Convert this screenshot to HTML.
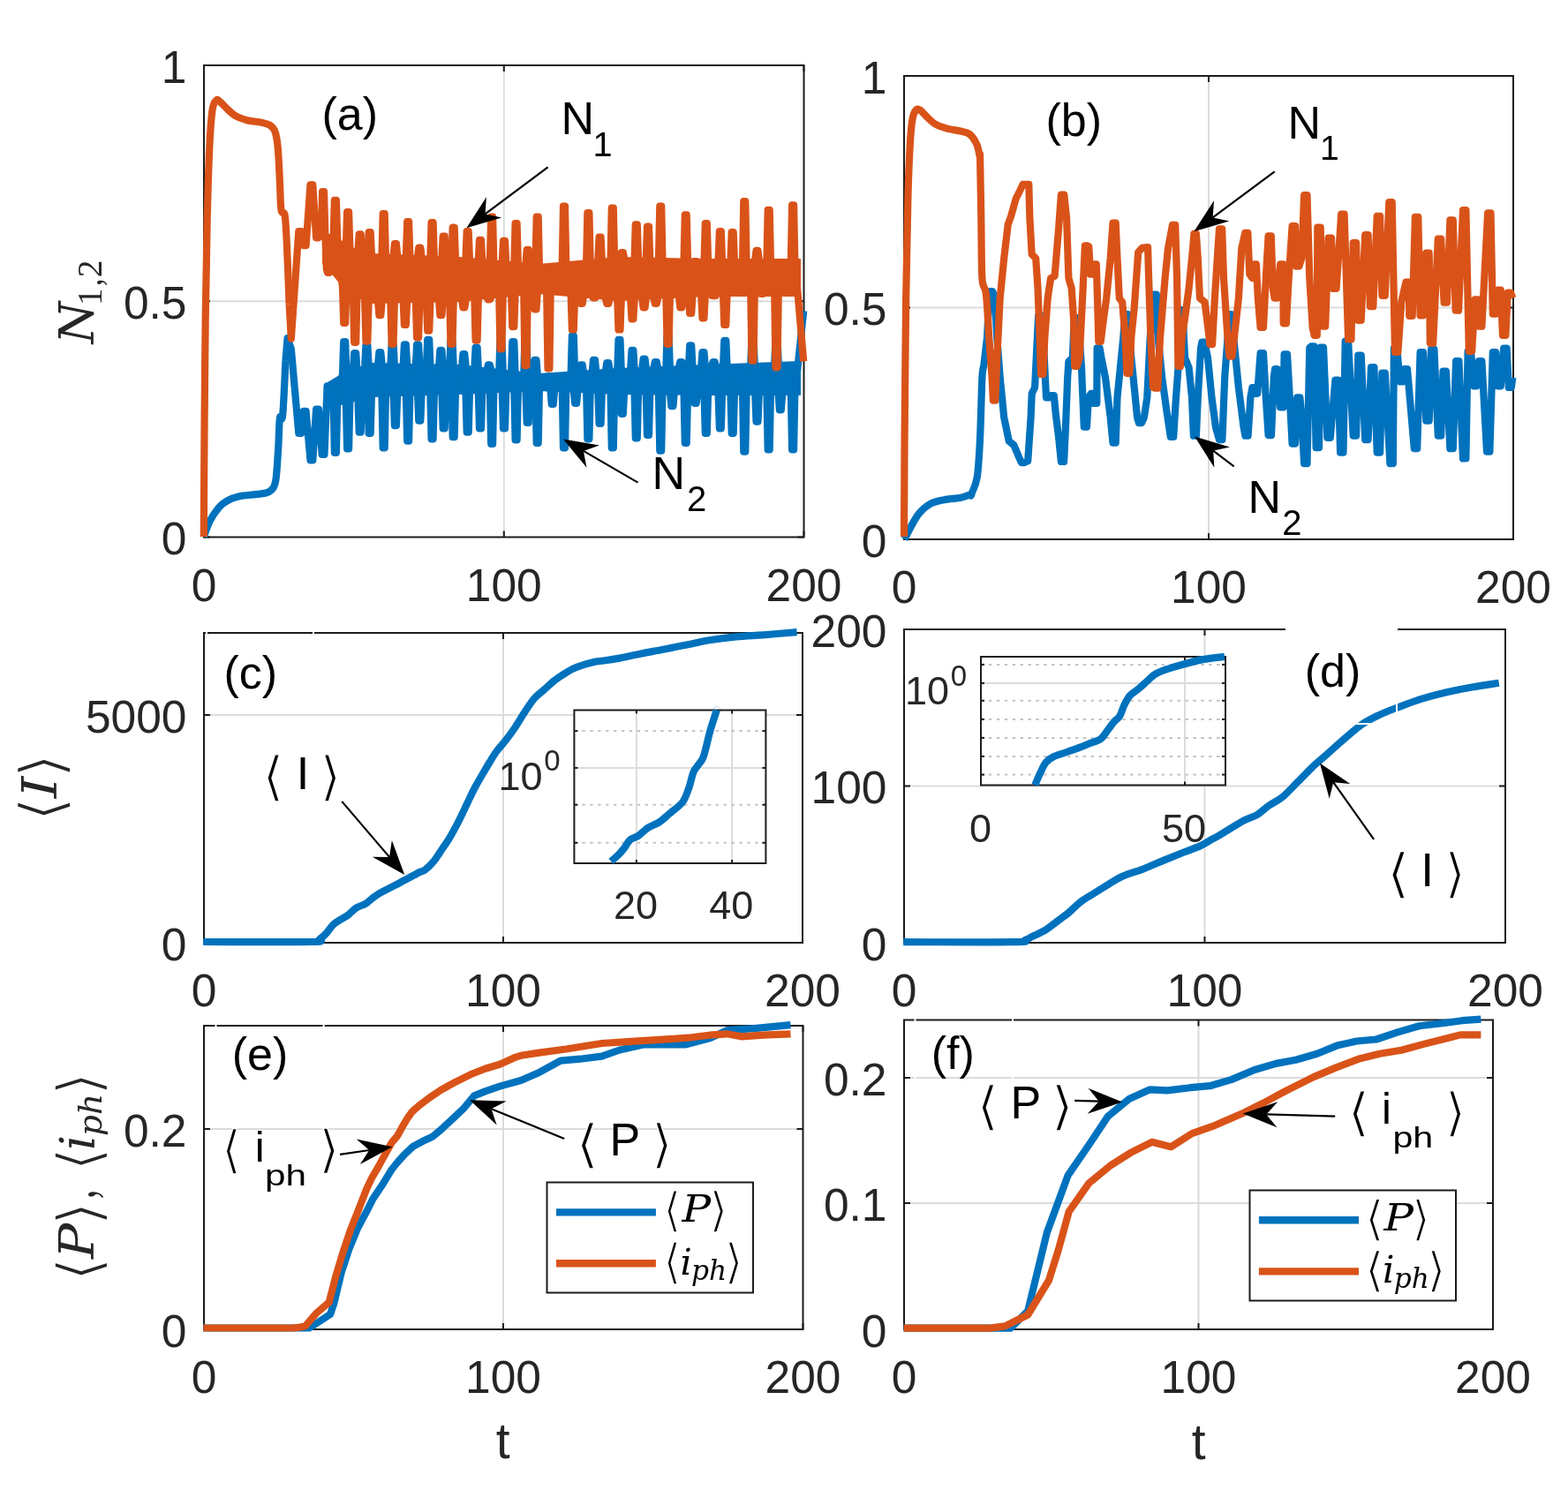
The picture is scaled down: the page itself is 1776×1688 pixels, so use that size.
<!DOCTYPE html>
<html><head><meta charset="utf-8"><title>figure</title>
<style>html,body{margin:0;padding:0;background:#fff;overflow:hidden;width:1776px;height:1688px;}svg{display:block;}</style>
</head><body>
<svg width="1776" height="1688" viewBox="0 0 1776 1688">
<rect width="1776" height="1688" fill="#ffffff"/>
<line x1="570.8" y1="74.0" x2="570.8" y2="608.5" stroke="#dcdcdc" stroke-width="2" />
<line x1="231.0" y1="341.2" x2="910.5" y2="341.2" stroke="#dcdcdc" stroke-width="2" />
<rect x="231.0" y="74.0" width="679.5" height="534.5" fill="none" stroke="#1c1c1c" stroke-width="2"/>
<line x1="231.0" y1="608.5" x2="231.0" y2="601.5" stroke="#1c1c1c" stroke-width="2" />
<line x1="231.0" y1="74.0" x2="231.0" y2="81.0" stroke="#1c1c1c" stroke-width="2" />
<line x1="570.8" y1="608.5" x2="570.8" y2="601.5" stroke="#1c1c1c" stroke-width="2" />
<line x1="570.8" y1="74.0" x2="570.8" y2="81.0" stroke="#1c1c1c" stroke-width="2" />
<line x1="910.5" y1="608.5" x2="910.5" y2="601.5" stroke="#1c1c1c" stroke-width="2" />
<line x1="910.5" y1="74.0" x2="910.5" y2="81.0" stroke="#1c1c1c" stroke-width="2" />
<line x1="231.0" y1="608.5" x2="238.0" y2="608.5" stroke="#1c1c1c" stroke-width="2" />
<line x1="910.5" y1="608.5" x2="903.5" y2="608.5" stroke="#1c1c1c" stroke-width="2" />
<line x1="231.0" y1="341.2" x2="238.0" y2="341.2" stroke="#1c1c1c" stroke-width="2" />
<line x1="910.5" y1="341.2" x2="903.5" y2="341.2" stroke="#1c1c1c" stroke-width="2" />
<line x1="231.0" y1="74.0" x2="238.0" y2="74.0" stroke="#1c1c1c" stroke-width="2" />
<line x1="910.5" y1="74.0" x2="903.5" y2="74.0" stroke="#1c1c1c" stroke-width="2" />
<text x="231.0" y="680.5" font-size="51.5" text-anchor="middle" fill="#262626" font-family="'Liberation Sans', sans-serif" >0</text>
<text x="570.8" y="680.5" font-size="51.5" text-anchor="middle" fill="#262626" font-family="'Liberation Sans', sans-serif" >100</text>
<text x="910.5" y="680.5" font-size="51.5" text-anchor="middle" fill="#262626" font-family="'Liberation Sans', sans-serif" >200</text>
<text x="211.5" y="628.0" font-size="51.5" text-anchor="end" fill="#262626" font-family="'Liberation Sans', sans-serif" >0</text>
<text x="211.5" y="360.7" font-size="51.5" text-anchor="end" fill="#262626" font-family="'Liberation Sans', sans-serif" >0.5</text>
<text x="211.5" y="93.5" font-size="51.5" text-anchor="end" fill="#262626" font-family="'Liberation Sans', sans-serif" >1</text>
<polygon points="368.0,436.0 386.0,425.0 420.0,412.0 520.0,414.0 610.0,424.0 700.0,418.0 800.0,414.0 906.0,410.0 906.0,447.0 800.0,447.0 700.0,446.0 610.0,442.0 520.0,446.0 420.0,449.0 386.0,458.0 368.0,460.0" fill="#0072bd" stroke="#0072bd" stroke-width="2" stroke-linejoin="round"/>
<path d="M230.8,608.0 C232.0,605.0 235.1,595.4 237.9,589.9 C240.7,584.4 244.4,579.1 247.6,575.3 C250.8,571.5 253.5,569.4 257.3,567.3 C261.1,565.1 264.8,563.6 270.2,562.4 C275.6,561.2 284.1,560.8 289.5,560.1 C294.9,559.4 299.1,559.4 302.4,558.2 C305.7,557.0 307.8,555.5 309.5,552.7 C311.2,549.9 311.7,549.2 312.7,541.4 C313.7,533.6 314.6,517.2 315.3,505.9 C316.0,494.6 316.1,479.5 316.9,473.6 C317.7,467.7 319.1,481.2 320.2,470.4 C321.3,459.6 322.9,419.2 323.4,409.0" fill="none" stroke="#0072bd" stroke-width="8.2" stroke-linejoin="round"/>
<polyline points="323.4,409.0 325.6,383.2 329.8,395.0 338.3,490.8 341.1,490.8 343.8,465.9 346.6,465.9 351.5,521.5 354.3,521.5 358.1,463.7 360.9,463.7 364.7,514.9 367.5,514.9 370.6,437.4 373.4,437.4 377.7,458.7 378.9,512.8 380.9,512.8 382.1,458.7 388.0,423.4 389.2,387.0 391.2,387.0 392.4,423.4 391.9,455.8 393.1,508.4 395.1,508.4 396.3,455.8 400.0,418.8 401.2,400.1 403.2,400.1 404.4,418.8 405.5,452.3 406.7,489.7 408.7,489.7 409.9,452.3 413.2,413.8 414.4,391.4 416.4,391.4 417.6,413.8 416.5,449.3 417.7,490.8 419.7,490.8 420.9,449.3 428.2,412.2 429.4,399.0 431.3,399.0 432.6,412.2 432.5,448.6 433.7,507.3 435.7,507.3 436.9,448.6 442.4,412.5 443.6,390.3 445.6,390.3 446.8,412.5 445.7,448.2 446.9,482.1 448.9,482.1 450.1,448.2 456.7,412.8 457.9,390.3 459.8,390.3 461.1,412.8 459.9,447.7 461.2,499.6 463.1,499.6 464.3,447.7 470.9,413.1 472.1,390.3 474.1,390.3 475.3,413.1 473.1,447.3 474.3,476.6 476.3,476.6 477.5,447.3 483.0,413.3 484.2,384.8 486.2,384.8 487.4,413.3 487.4,446.9 488.6,497.4 490.6,497.4 491.8,446.9 497.2,413.6 498.4,396.9 500.4,396.9 501.6,413.6 500.5,446.5 501.7,485.3 503.7,485.3 504.9,446.5 509.3,413.8 510.5,385.9 512.5,385.9 513.7,413.8 511.5,446.2 512.7,495.2 514.7,495.2 515.9,446.2 523.2,414.6 524.4,401.2 526.3,401.2 527.6,414.6 527.5,445.6 528.7,489.7 530.7,489.7 531.9,445.6 537.4,416.2 538.6,393.6 540.6,393.6 541.8,416.2 541.8,444.9 543.0,485.3 545.0,485.3 546.2,444.9 551.7,417.8 552.9,413.3 554.8,413.3 556.1,417.8 554.9,444.3 556.2,502.9 558.1,502.9 559.3,444.3 565.3,419.3 566.5,384.8 568.4,384.8 569.7,419.3 568.8,443.7 570.0,485.3 572.0,485.3 573.2,443.7 579.1,420.8 580.3,387.0 582.3,387.0 583.5,420.8 582.4,443.1 583.6,498.5 585.6,498.5 586.8,443.1 593.3,422.4 594.5,382.6 596.5,382.6 597.7,422.4 595.5,442.5 596.7,478.8 598.7,478.8 599.9,442.5 604.3,423.6 605.5,407.8 607.5,407.8 608.7,423.6 606.5,442.1 607.7,501.8 609.7,501.8 610.9,442.1 620.0,426.5 622.4,426.5 623.6,442.7 624.8,457.9 626.8,457.9 628.0,442.7 633.2,428.6 635.6,428.6 636.8,443.3 638.0,507.3 640.0,507.3 641.2,443.3 646.7,421.4 647.9,380.4 649.8,380.4 651.1,421.4 649.9,443.9 651.2,456.8 653.1,456.8 654.3,443.9 656.5,420.8 657.7,413.3 659.7,413.3 660.9,420.8 664.2,444.5 665.4,497.4 667.4,497.4 668.6,444.5 670.8,419.8 672.0,407.8 674.0,407.8 675.2,419.8 677.4,445.1 678.6,479.9 680.6,479.9 681.8,445.1 686.1,418.8 687.3,411.1 689.3,411.1 690.5,418.8 691.6,445.7 692.8,507.3 694.8,507.3 696.0,445.7 699.3,417.9 700.5,384.8 702.5,384.8 703.7,417.9 702.6,446.0 703.8,468.9 705.8,468.9 707.0,446.0 714.2,417.3 715.5,396.9 717.4,396.9 718.6,417.3 718.6,446.2 719.8,496.3 721.8,496.3 723.0,446.2 727.4,416.8 728.6,406.7 730.6,406.7 731.8,416.8 731.8,446.3 733.0,493.0 735.0,493.0 736.2,446.3 740.6,416.3 741.8,410.0 743.8,410.0 745.0,416.3 746.0,446.5 747.3,510.6 749.2,510.6 750.4,446.5 754.4,415.7 755.6,380.4 757.6,380.4 758.8,415.7 759.2,446.6 760.4,460.1 762.4,460.1 763.6,446.6 769.1,415.1 770.3,410.0 772.3,410.0 773.5,415.1 774.6,446.8 775.8,501.8 777.7,501.8 779.0,446.8 780.0,414.7 781.2,391.4 783.2,391.4 784.4,414.7 785.5,446.9 786.7,456.8 788.7,456.8 789.9,446.9 794.3,414.1 795.5,399.0 797.5,399.0 798.7,414.1 797.6,447.0 798.8,490.8 800.8,490.8 802.0,447.0 806.4,413.7 807.6,410.0 809.6,410.0 810.8,413.7 813.6,447.0 814.9,485.3 816.8,485.3 818.0,447.0 819.1,413.2 820.3,385.9 822.3,385.9 823.5,413.2 827.5,447.0 828.7,490.8 830.7,490.8 831.9,447.0 834.8,440.7 837.6,440.7 841.1,447.0 842.3,511.7 844.3,511.7 845.5,447.0 850.3,412.0 851.5,382.6 853.5,382.6 854.7,412.0 855.3,447.0 856.5,477.7 858.5,477.7 859.7,447.0 861.6,419.9 864.4,419.9 868.5,447.0 869.7,509.5 871.7,509.5 872.9,447.0 877.3,411.0 878.5,382.6 880.5,382.6 881.7,411.0 881.7,447.0 882.9,464.5 884.8,464.5 886.1,447.0 891.2,425.4 894.0,425.4 895.9,447.0 897.1,509.5 899.1,509.5 900.3,447.0 910.2,352.3" fill="none" stroke="#0072bd" stroke-width="8.2" stroke-linejoin="round" stroke-linecap="butt" />
<polygon points="366.0,264.0 380.0,268.0 395.0,280.0 420.0,288.0 520.0,292.0 610.0,300.0 700.0,292.0 800.0,294.0 906.0,294.0 906.0,335.0 800.0,335.0 700.0,340.0 610.0,332.0 520.0,341.0 420.0,343.0 395.0,332.0 380.0,314.0 366.0,298.0" fill="#d95319" stroke="#d95319" stroke-width="2" stroke-linejoin="round"/>
<path d="M230.8,608.0 C230.9,588.3 231.2,531.0 231.5,489.8 C231.8,448.6 232.2,401.0 232.7,360.6 C233.2,320.2 233.9,279.9 234.7,247.6 C235.5,215.3 236.3,187.3 237.3,166.9 C238.3,146.5 239.2,133.8 240.5,124.9 C241.8,116.0 243.6,115.2 245.0,113.6 C246.4,112.0 247.1,113.6 249.2,115.2 C251.2,116.8 254.4,120.6 257.3,123.3 C260.2,126.0 263.1,129.2 266.9,131.3 C270.6,133.5 274.9,134.9 279.8,136.2 C284.7,137.4 291.7,137.9 296.0,138.8 C300.3,139.7 303.0,140.0 305.6,141.7 C308.2,143.4 310.0,144.9 311.5,149.1 C313.0,153.3 313.8,157.5 314.7,166.9 C315.6,176.3 316.3,193.8 316.9,205.6 C317.5,217.4 317.5,231.4 318.5,237.9 C319.5,244.4 321.6,237.4 322.7,244.4 C323.8,251.4 324.2,263.2 325.0,279.9 C325.8,296.6 327.2,333.7 327.6,344.5" fill="none" stroke="#d95319" stroke-width="8.2" stroke-linejoin="round"/>
<polyline points="327.6,344.5 329.8,383.6 338.3,262.0 341.1,262.0 343.8,278.1 346.6,278.1 351.5,209.4 354.3,209.4 358.1,269.3 360.9,269.3 363.9,264.0 365.1,217.0 367.0,217.0 368.3,264.0 369.8,304.8 371.0,308.8 373.0,308.8 374.2,304.8 377.7,268.0 378.9,226.9 380.9,226.9 382.1,268.0 388.0,326.2 389.2,365.8 391.2,365.8 392.4,326.2 391.9,279.3 393.1,240.1 395.1,240.1 396.3,279.3 400.0,335.2 401.2,387.8 403.2,387.8 404.4,335.2 405.5,284.1 406.7,265.3 408.7,265.3 409.9,284.1 413.2,341.0 414.4,386.7 416.4,386.7 417.6,341.0 416.5,287.6 417.7,263.1 419.7,263.1 420.9,287.6 428.2,342.8 429.4,357.1 431.3,357.1 432.6,342.8 432.5,288.6 433.7,242.2 435.7,242.2 436.9,288.6 442.4,342.5 443.6,389.9 445.6,389.9 446.8,342.5 445.7,289.1 446.9,276.2 448.9,276.2 450.1,289.1 456.7,342.2 457.9,368.0 459.8,368.0 461.1,342.2 459.9,289.7 461.2,251.0 463.1,251.0 464.3,289.7 470.9,341.9 472.1,382.3 474.1,382.3 475.3,341.9 473.1,290.2 474.3,280.6 476.3,280.6 477.5,290.2 483.0,341.7 484.2,374.6 486.2,374.6 487.4,341.7 487.4,290.8 488.6,252.1 490.6,252.1 491.8,290.8 497.2,341.4 498.4,357.1 500.4,357.1 501.6,341.4 500.5,291.3 501.7,267.5 503.7,267.5 504.9,291.3 509.3,341.2 510.5,389.9 512.5,389.9 513.7,341.2 511.5,291.7 512.7,257.6 514.7,257.6 515.9,291.7 523.2,340.5 524.4,348.3 526.3,348.3 527.6,340.5 527.5,292.9 528.7,262.0 530.7,262.0 531.9,292.9 537.4,339.0 538.6,385.6 540.6,385.6 541.8,339.0 541.8,294.1 543.0,271.9 545.0,271.9 546.2,294.1 551.7,337.6 552.9,339.5 554.8,339.5 556.1,337.6 554.9,295.3 556.2,245.5 558.1,245.5 559.3,295.3 565.3,336.3 566.5,395.4 568.4,395.4 569.7,336.3 568.8,296.5 570.0,272.9 572.0,272.9 573.2,296.5 579.1,334.9 580.3,370.2 582.3,370.2 583.5,334.9 582.4,297.7 583.6,253.2 585.6,253.2 586.8,297.7 593.3,333.4 594.5,414.1 596.5,414.1 597.7,333.4 595.5,298.9 596.7,282.8 598.7,282.8 599.9,298.9 604.3,332.4 605.5,350.5 607.5,350.5 608.7,332.4 606.5,299.9 607.7,245.5 609.7,245.5 610.9,299.9 619.2,333.0 620.5,417.4 622.4,417.4 623.6,333.0 624.8,306.9 627.2,306.9 633.2,324.2 635.6,324.2 636.8,297.4 638.0,233.5 640.0,233.5 641.2,297.4 646.7,335.5 647.9,373.5 649.8,373.5 651.1,335.5 651.7,301.5 653.5,301.5 656.5,336.3 657.7,343.9 659.7,343.9 660.9,336.3 664.2,295.0 665.4,241.1 667.4,241.1 668.6,295.0 671.6,337.3 674.4,337.3 677.4,293.8 678.6,268.6 680.6,268.6 681.8,293.8 686.1,339.0 687.3,343.9 689.3,343.9 690.5,339.0 691.6,292.5 692.8,235.7 694.8,235.7 696.0,292.5 699.3,339.9 700.5,373.5 702.5,373.5 703.7,339.9 702.6,292.1 703.8,286.1 705.8,286.1 707.0,292.1 714.2,339.2 715.5,361.4 717.4,361.4 718.6,339.2 718.6,292.4 719.8,254.3 721.8,254.3 723.0,292.4 727.4,338.5 728.6,348.3 730.6,348.3 731.8,338.5 731.8,292.7 733.0,256.5 735.0,256.5 736.2,292.7 740.6,337.9 741.8,343.9 743.8,343.9 745.0,337.9 746.0,293.0 747.3,233.5 749.2,233.5 750.4,293.0 754.4,337.2 755.6,389.9 757.6,389.9 758.8,337.2 760.2,301.5 762.8,301.5 769.1,336.4 770.3,348.3 772.3,348.3 773.5,336.4 774.6,293.5 775.8,243.3 777.7,243.3 779.0,293.5 780.0,335.9 781.2,354.9 783.2,354.9 784.4,335.9 786.3,296.0 789.1,296.0 794.3,335.2 795.5,360.3 797.5,360.3 798.7,335.2 797.6,294.0 798.8,253.2 800.8,253.2 802.0,294.0 806.4,335.0 807.6,335.1 809.6,335.1 810.8,335.0 813.6,294.0 814.9,262.0 816.8,262.0 818.0,294.0 819.1,335.0 820.3,368.0 822.3,368.0 823.5,335.0 827.5,294.0 828.7,263.1 830.7,263.1 831.9,294.0 834.8,304.4 837.6,304.4 841.1,294.0 842.3,228.0 844.3,228.0 845.5,294.0 850.3,335.0 851.5,408.6 853.5,408.6 854.7,335.0 855.3,294.0 856.5,283.9 858.5,283.9 859.7,294.0 861.6,332.9 864.4,332.9 868.5,294.0 869.7,237.9 871.7,237.9 872.9,294.0 877.3,335.0 878.5,416.3 880.5,416.3 881.7,335.0 882.9,300.4 885.3,300.4 891.2,328.5 894.0,328.5 895.9,294.0 897.1,232.4 899.1,232.4 900.3,294.0 910.2,409.3" fill="none" stroke="#d95319" stroke-width="8.2" stroke-linejoin="round" stroke-linecap="butt" />
<line x1="1369.0" y1="86.0" x2="1369.0" y2="611.0" stroke="#dcdcdc" stroke-width="2" />
<line x1="1024.0" y1="348.5" x2="1714.0" y2="348.5" stroke="#dcdcdc" stroke-width="2" />
<rect x="1024.0" y="86.0" width="690.0" height="525.0" fill="none" stroke="#1c1c1c" stroke-width="2"/>
<line x1="1024.0" y1="611.0" x2="1024.0" y2="604.0" stroke="#1c1c1c" stroke-width="2" />
<line x1="1024.0" y1="86.0" x2="1024.0" y2="93.0" stroke="#1c1c1c" stroke-width="2" />
<line x1="1369.0" y1="611.0" x2="1369.0" y2="604.0" stroke="#1c1c1c" stroke-width="2" />
<line x1="1369.0" y1="86.0" x2="1369.0" y2="93.0" stroke="#1c1c1c" stroke-width="2" />
<line x1="1714.0" y1="611.0" x2="1714.0" y2="604.0" stroke="#1c1c1c" stroke-width="2" />
<line x1="1714.0" y1="86.0" x2="1714.0" y2="93.0" stroke="#1c1c1c" stroke-width="2" />
<line x1="1024.0" y1="611.0" x2="1031.0" y2="611.0" stroke="#1c1c1c" stroke-width="2" />
<line x1="1714.0" y1="611.0" x2="1707.0" y2="611.0" stroke="#1c1c1c" stroke-width="2" />
<line x1="1024.0" y1="348.5" x2="1031.0" y2="348.5" stroke="#1c1c1c" stroke-width="2" />
<line x1="1714.0" y1="348.5" x2="1707.0" y2="348.5" stroke="#1c1c1c" stroke-width="2" />
<line x1="1024.0" y1="86.0" x2="1031.0" y2="86.0" stroke="#1c1c1c" stroke-width="2" />
<line x1="1714.0" y1="86.0" x2="1707.0" y2="86.0" stroke="#1c1c1c" stroke-width="2" />
<text x="1024.0" y="683.0" font-size="51.5" text-anchor="middle" fill="#262626" font-family="'Liberation Sans', sans-serif" >0</text>
<text x="1369.0" y="683.0" font-size="51.5" text-anchor="middle" fill="#262626" font-family="'Liberation Sans', sans-serif" >100</text>
<text x="1714.0" y="683.0" font-size="51.5" text-anchor="middle" fill="#262626" font-family="'Liberation Sans', sans-serif" >200</text>
<text x="1004.5" y="630.5" font-size="51.5" text-anchor="end" fill="#262626" font-family="'Liberation Sans', sans-serif" >0</text>
<text x="1004.5" y="368.0" font-size="51.5" text-anchor="end" fill="#262626" font-family="'Liberation Sans', sans-serif" >0.5</text>
<text x="1004.5" y="105.5" font-size="51.5" text-anchor="end" fill="#262626" font-family="'Liberation Sans', sans-serif" >1</text>
<path d="M1024.6,611.0 C1025.7,608.9 1028.3,603.0 1031.0,598.2 C1033.7,593.4 1036.9,586.7 1040.6,582.2 C1044.3,577.7 1048.6,573.7 1053.4,571.0 C1058.2,568.3 1063.5,567.4 1069.4,566.2 C1075.3,565.0 1083.5,564.8 1088.6,563.7 C1093.7,562.6 1097.9,560.4 1099.8,559.8 C1101.7,559.2 1098.8,563.4 1100.0,560.2 C1101.2,557.0 1105.1,551.2 1106.8,540.4 C1108.5,529.6 1109.2,514.1 1110.1,495.3 C1111.0,476.5 1111.7,441.6 1112.4,427.7 C1113.2,413.8 1113.7,419.5 1114.6,412.0 C1115.5,404.5 1117.4,387.6 1118.0,382.7" fill="none" stroke="#0072bd" stroke-width="8.2" stroke-linejoin="round"/>
<polyline points="1118.0,382.7 1120.8,330.2 1124.2,330.2 1127.0,337.7 1129.3,382.7 1132.7,427.7 1137.2,472.8 1142.8,499.8 1148.4,504.3 1154.1,517.8 1156.9,524.1 1160.3,524.1 1164.2,522.3 1167.6,472.8 1168.7,445.8 1172.1,439.0 1174.3,394.0 1176.2,357.3 1179.4,357.3 1182.2,394.0 1185.0,450.3 1188.4,450.3 1190.6,448.0 1193.8,448.0 1195.7,468.3 1199.1,495.3 1201.9,523.0 1205.1,523.0 1207.0,484.1 1209.2,427.7 1210.4,409.7 1214.9,405.2 1216.7,360.2 1219.9,360.2 1222.7,382.7 1225.0,416.5 1227.8,483.6 1231.0,483.6 1232.9,450.3 1235.7,445.8 1238.9,445.8 1239.3,457.0 1242.3,457.0 1242.6,394.4 1245.6,394.4 1247.5,405.2 1252.0,427.7 1257.7,472.8 1260.5,501.6 1263.7,501.6 1265.5,450.3 1268.9,416.5 1272.3,382.7 1274.2,356.1 1277.4,356.1 1280.2,394.0 1283.6,427.7 1288.1,472.8 1289.9,479.1 1293.1,479.1 1295.9,472.8 1299.3,450.3 1302.7,382.7 1306.6,333.6 1309.8,333.6 1311.7,382.7 1316.2,427.7 1321.8,468.3 1325.8,494.9 1329.2,494.9 1332.0,450.3 1335.4,405.2 1336.6,351.2 1339.3,351.2 1342.1,405.2 1346.6,416.5 1350.0,450.3 1351.9,493.7 1354.9,493.7 1356.8,450.3 1360.1,394.0 1361.4,387.7 1364.1,387.7 1368.0,405.2 1372.5,450.3 1377.0,484.1 1381.0,498.2 1384.4,498.2 1387.2,427.7 1390.5,382.7 1391.8,356.1 1394.5,356.1 1397.3,382.7 1402.9,439.0 1408.6,484.1 1410.4,493.7 1413.6,493.7 1416.4,450.3 1418.4,439.0 1421.1,439.0 1421.4,445.8 1424.2,445.8 1427.6,400.2 1431.0,400.2 1433.8,450.3 1436.6,493.1 1440.0,493.1 1442.8,427.7 1444.0,418.2 1446.7,418.2 1450.1,461.5 1453.5,461.5 1454.6,401.3 1458.0,401.3 1460.8,450.3 1463.6,502.6 1467.0,502.6 1469.2,450.3 1472.4,450.3 1474.3,472.8 1477.1,525.1 1480.5,525.1 1483.3,394.0 1485.2,392.3 1488.4,392.3 1490.6,507.1 1494.0,507.1 1495.6,393.5 1499.0,393.5 1503.4,495.8 1506.8,495.8 1512.4,430.6 1515.8,430.6 1518.1,512.7 1521.5,512.7 1523.7,386.7 1527.1,386.7 1532.7,493.6 1536.1,493.6 1538.3,402.5 1541.7,402.5 1546.2,498.1 1549.6,498.1 1553.0,416.0 1556.4,416.0 1559.7,512.7 1563.1,512.7 1565.4,422.7 1568.8,422.7 1574.4,525.1 1577.8,525.1 1578.9,394.6 1582.3,394.6 1585.6,432.3 1589.0,432.3 1590.6,418.2 1594.0,418.2 1601.8,508.2 1605.2,508.2 1608.6,399.1 1612.0,399.1 1615.3,476.7 1618.7,476.7 1621.0,395.7 1624.4,395.7 1628.8,493.6 1632.2,493.6 1634.5,420.5 1637.9,420.5 1642.4,508.2 1645.8,508.2 1649.1,409.2 1652.5,409.2 1657.0,519.5 1660.4,519.5 1662.6,398.0 1666.0,398.0 1669.4,437.3 1672.8,437.3 1675.0,409.2 1678.4,409.2 1684.0,511.6 1687.4,511.6 1690.8,399.1 1694.2,399.1 1696.4,437.3 1699.8,437.3 1703.2,394.6 1706.6,394.6 1708.8,439.0 1711.8,439.0 1713.4,427.7" fill="none" stroke="#0072bd" stroke-width="8.2" stroke-linejoin="round" stroke-linecap="butt" />
<path d="M1024.0,608.0 C1024.1,589.3 1024.2,541.2 1024.6,495.9 C1025.0,450.5 1025.6,381.2 1026.2,335.9 C1026.8,290.6 1027.6,253.3 1028.4,224.0 C1029.2,194.7 1030.1,174.9 1031.0,160.0 C1031.9,145.1 1032.5,140.3 1033.6,134.4 C1034.7,128.5 1036.0,126.4 1037.4,124.8 C1038.8,123.2 1040.1,123.5 1042.2,124.8 C1044.3,126.1 1047.3,130.1 1050.2,132.8 C1053.1,135.5 1056.1,138.7 1059.8,140.8 C1063.5,142.9 1067.8,144.3 1072.6,145.6 C1077.4,146.9 1084.3,147.7 1088.6,148.8 C1092.9,149.9 1095.3,149.6 1098.2,152.0 C1101.1,154.4 1104.3,159.2 1106.2,163.2 C1108.1,167.2 1108.8,173.2 1109.4,176.0 C1110.1,178.8 1109.8,168.1 1110.1,180.0 C1110.4,191.9 1110.9,225.1 1111.3,247.6 C1111.7,270.1 1111.5,300.8 1112.4,315.1 C1113.3,329.4 1115.6,321.9 1116.9,333.2 C1118.2,344.5 1119.7,374.4 1120.3,382.7" fill="none" stroke="#d95319" stroke-width="8.2" stroke-linejoin="round"/>
<polyline points="1120.3,382.7 1123.6,427.7 1124.9,453.6 1127.4,453.6 1129.3,405.2 1132.7,337.7 1137.2,292.6 1141.7,254.3 1145.0,245.3 1150.7,225.0 1155.2,216.0 1158.6,208.8 1165.3,208.8 1166.4,247.6 1168.7,288.1 1173.2,292.6 1175.5,326.4 1177.7,382.7 1179.0,423.9 1181.5,423.9 1183.3,382.7 1186.7,337.7 1190.1,315.1 1194.6,312.9 1199.1,258.8 1201.9,220.5 1205.3,220.5 1208.1,247.6 1210.4,315.1 1213.7,326.4 1216.0,360.2 1217.2,414.9 1219.9,414.9 1222.7,405.2 1226.1,337.7 1228.9,278.4 1231.8,278.4 1233.3,279.1 1235.0,310.6 1238.0,310.6 1239.1,299.4 1241.8,299.4 1243.0,337.7 1244.3,386.8 1246.8,386.8 1248.6,371.4 1253.2,337.7 1257.7,292.6 1260.5,252.5 1263.7,252.5 1265.5,292.6 1267.8,337.7 1271.2,342.2 1274.5,382.7 1276.4,422.8 1279.4,422.8 1281.3,382.7 1284.7,348.9 1289.2,285.9 1293.7,280.7 1297.6,280.2 1300.1,280.2 1301.1,315.1 1303.4,382.7 1306.1,439.0 1308.0,439.7 1311.2,439.7 1314.0,382.7 1319.6,315.1 1323.0,281.4 1328.0,254.8 1331.2,254.8 1333.1,315.1 1334.4,414.9 1336.9,414.9 1338.7,382.7 1342.1,360.2 1346.6,326.4 1351.1,281.4 1352.4,264.9 1354.9,264.9 1356.8,292.6 1359.0,337.7 1364.6,342.2 1369.1,378.2 1370.4,390.1 1373.1,390.1 1375.9,337.7 1381.0,259.3 1384.2,259.3 1386.0,315.1 1390.5,382.7 1392.4,403.6 1395.6,403.6 1398.4,378.2 1402.9,337.7 1406.3,281.4 1410.2,263.8 1413.4,263.8 1415.3,310.6 1418.3,315.1 1420.6,315.1 1420.8,299.4 1422.9,299.4 1424.8,337.7 1427.6,370.8 1431.0,370.8 1433.8,315.1 1436.6,267.3 1439.8,267.3 1441.7,326.4 1443.5,337.7 1446.7,337.7 1450.1,299.4 1453.3,299.4 1453.7,366.3 1456.9,366.3 1459.7,315.1 1463.6,256.1 1467.0,256.1 1468.1,301.6 1471.5,301.6 1474.3,292.6 1477.1,221.2 1480.5,221.2 1483.3,315.1 1486.7,371.4 1488.6,379.8 1491.8,379.8 1492.3,257.5 1495.7,257.5 1497.8,369.7 1501.2,369.7 1504.6,269.6 1508.0,269.6 1510.2,327.0 1513.6,327.0 1519.2,242.6 1522.6,242.6 1527.1,384.3 1530.5,384.3 1532.7,275.2 1536.1,275.2 1538.3,362.9 1541.7,362.9 1546.2,266.2 1549.6,266.2 1551.9,347.2 1555.3,347.2 1559.7,244.8 1563.1,244.8 1565.4,334.8 1568.8,334.8 1573.3,229.0 1576.7,229.0 1580.0,399.0 1583.4,399.0 1587.3,342.2 1592.4,319.6 1595.8,319.6 1596.3,358.0 1599.7,358.0 1602.9,245.9 1606.3,245.9 1608.6,357.3 1612.0,357.3 1615.3,286.5 1618.7,286.5 1619.8,388.8 1623.2,388.8 1628.8,270.7 1632.2,270.7 1635.6,342.7 1639.0,342.7 1642.4,249.3 1645.8,249.3 1648.7,351.7 1652.1,351.7 1657.0,238.1 1660.4,238.1 1663.8,397.8 1667.2,397.8 1670.5,339.4 1673.9,339.4 1675.0,369.7 1678.4,369.7 1685.1,241.4 1688.5,241.4 1690.8,355.7 1694.2,355.7 1696.4,328.6 1699.8,328.6 1702.0,379.8 1705.4,379.8 1707.7,331.5 1711.1,331.5 1713.4,337.7" fill="none" stroke="#d95319" stroke-width="8.2" stroke-linejoin="round" stroke-linecap="butt" />
<line x1="570.0" y1="717.0" x2="570.0" y2="1068.0" stroke="#dcdcdc" stroke-width="2" />
<line x1="231.0" y1="810.0" x2="909.0" y2="810.0" stroke="#dcdcdc" stroke-width="2" />
<rect x="231.0" y="717.0" width="678.0" height="351.0" fill="none" stroke="#1c1c1c" stroke-width="2"/>
<line x1="231.0" y1="1068.0" x2="231.0" y2="1061.0" stroke="#1c1c1c" stroke-width="2" />
<line x1="231.0" y1="717.0" x2="231.0" y2="724.0" stroke="#1c1c1c" stroke-width="2" />
<line x1="570.0" y1="1068.0" x2="570.0" y2="1061.0" stroke="#1c1c1c" stroke-width="2" />
<line x1="570.0" y1="717.0" x2="570.0" y2="724.0" stroke="#1c1c1c" stroke-width="2" />
<line x1="909.0" y1="1068.0" x2="909.0" y2="1061.0" stroke="#1c1c1c" stroke-width="2" />
<line x1="909.0" y1="717.0" x2="909.0" y2="724.0" stroke="#1c1c1c" stroke-width="2" />
<line x1="231.0" y1="1068.0" x2="238.0" y2="1068.0" stroke="#1c1c1c" stroke-width="2" />
<line x1="909.0" y1="1068.0" x2="902.0" y2="1068.0" stroke="#1c1c1c" stroke-width="2" />
<line x1="231.0" y1="810.0" x2="238.0" y2="810.0" stroke="#1c1c1c" stroke-width="2" />
<line x1="909.0" y1="810.0" x2="902.0" y2="810.0" stroke="#1c1c1c" stroke-width="2" />
<text x="231.0" y="1140.0" font-size="51.5" text-anchor="middle" fill="#262626" font-family="'Liberation Sans', sans-serif" >0</text>
<text x="570.0" y="1140.0" font-size="51.5" text-anchor="middle" fill="#262626" font-family="'Liberation Sans', sans-serif" >100</text>
<text x="909.0" y="1140.0" font-size="51.5" text-anchor="middle" fill="#262626" font-family="'Liberation Sans', sans-serif" >200</text>
<text x="211.5" y="1087.5" font-size="51.5" text-anchor="end" fill="#262626" font-family="'Liberation Sans', sans-serif" >0</text>
<text x="211.5" y="829.5" font-size="51.5" text-anchor="end" fill="#262626" font-family="'Liberation Sans', sans-serif" >5000</text>
<path d="M230.1,1067.0 C250.4,1067.0 329.8,1067.5 351.8,1067.0 C373.8,1066.5 358.9,1065.7 361.9,1064.0 C364.9,1062.3 367.5,1059.6 370.0,1056.9 C372.5,1054.2 374.7,1050.2 377.1,1047.8 C379.5,1045.4 381.3,1044.6 384.2,1042.7 C387.1,1040.8 391.1,1039.0 394.3,1036.6 C397.5,1034.2 400.1,1030.7 403.5,1028.5 C406.9,1026.3 411.1,1025.7 414.6,1023.5 C418.1,1021.3 421.3,1017.7 424.7,1015.3 C428.1,1012.9 431.2,1011.3 434.9,1009.3 C438.6,1007.3 443.1,1005.2 447.0,1003.2 C450.9,1001.2 453.5,999.6 458.2,997.1 C462.9,994.6 471.5,990.0 475.4,988.0 C479.3,986.0 479.0,987.3 481.7,985.2 C484.4,983.1 488.4,979.2 491.6,975.3 C494.8,971.4 497.8,966.3 500.7,962.0 C503.6,957.7 506.2,954.2 509.0,949.6 C511.8,945.0 514.8,939.3 517.3,934.6 C519.8,929.9 521.8,925.7 523.9,921.4 C526.0,917.1 527.4,913.8 529.8,908.9 C532.1,904.0 535.2,897.2 538.0,892.0 C540.8,886.8 543.5,882.2 546.3,877.5 C549.1,872.8 551.9,867.9 554.6,863.5 C557.3,859.1 559.6,855.1 562.7,850.9 C565.8,846.7 569.8,842.7 573.3,838.1 C576.8,833.5 580.4,828.5 584.0,823.2 C587.6,817.9 591.2,811.4 594.7,806.1 C598.2,800.8 601.8,795.3 605.3,791.2 C608.8,787.1 612.4,784.8 616.0,781.6 C619.6,778.4 623.2,774.9 626.7,772.0 C630.2,769.1 633.8,766.8 637.3,764.5 C640.8,762.2 644.4,759.9 648.0,758.1 C651.6,756.3 654.2,755.3 658.7,753.9 C663.2,752.5 670.9,750.5 674.7,749.6 C678.5,748.7 677.1,749.4 681.6,748.7 C686.1,748.0 694.5,747.0 701.9,745.6 C709.3,744.2 717.8,742.2 726.2,740.5 C734.7,738.8 743.1,737.4 752.6,735.5 C762.1,733.6 774.5,731.1 783.0,729.4 C791.5,727.7 794.8,726.6 803.3,725.3 C811.8,723.9 823.6,722.3 833.7,721.3 C843.8,720.3 852.6,720.1 864.1,719.3 C875.6,718.4 896.2,716.7 902.6,716.2" fill="none" stroke="#0072bd" stroke-width="8.2" stroke-linejoin="round"/>
<rect x="650.4" y="804.5" width="217.0" height="173.5" fill="#ffffff" stroke="none"/>
<line x1="720.9" y1="804.5" x2="720.9" y2="978.0" stroke="#dcdcdc" stroke-width="2" />
<line x1="829.1" y1="804.5" x2="829.1" y2="978.0" stroke="#dcdcdc" stroke-width="2" />
<line x1="650.4" y1="828.1" x2="867.4" y2="828.1" stroke="#c4c4c4" stroke-width="2" stroke-dasharray="3.5 5.4"/>
<line x1="650.4" y1="911.7" x2="867.4" y2="911.7" stroke="#c4c4c4" stroke-width="2" stroke-dasharray="3.5 5.4"/>
<line x1="650.4" y1="954.8" x2="867.4" y2="954.8" stroke="#c4c4c4" stroke-width="2" stroke-dasharray="3.5 5.4"/>
<line x1="650.4" y1="869.9" x2="867.4" y2="869.9" stroke="#dcdcdc" stroke-width="2" />
<rect x="650.4" y="804.5" width="217.0" height="173.5" fill="none" stroke="#1c1c1c" stroke-width="2"/>
<line x1="720.9" y1="978.0" x2="720.9" y2="974.0" stroke="#1c1c1c" stroke-width="2" />
<line x1="720.9" y1="804.5" x2="720.9" y2="808.5" stroke="#1c1c1c" stroke-width="2" />
<line x1="829.1" y1="978.0" x2="829.1" y2="974.0" stroke="#1c1c1c" stroke-width="2" />
<line x1="829.1" y1="804.5" x2="829.1" y2="808.5" stroke="#1c1c1c" stroke-width="2" />
<line x1="650.4" y1="869.9" x2="654.4" y2="869.9" stroke="#1c1c1c" stroke-width="2" />
<line x1="867.4" y1="869.9" x2="863.4" y2="869.9" stroke="#1c1c1c" stroke-width="2" />
<line x1="650.4" y1="828.1" x2="654.4" y2="828.1" stroke="#1c1c1c" stroke-width="2" />
<line x1="867.4" y1="828.1" x2="863.4" y2="828.1" stroke="#1c1c1c" stroke-width="2" />
<line x1="650.4" y1="911.7" x2="654.4" y2="911.7" stroke="#1c1c1c" stroke-width="2" />
<line x1="867.4" y1="911.7" x2="863.4" y2="911.7" stroke="#1c1c1c" stroke-width="2" />
<line x1="650.4" y1="954.8" x2="654.4" y2="954.8" stroke="#1c1c1c" stroke-width="2" />
<line x1="867.4" y1="954.8" x2="863.4" y2="954.8" stroke="#1c1c1c" stroke-width="2" />
<path d="M692.1,975.8 C693.5,974.6 698.0,970.9 700.5,968.4 C703.0,965.9 704.8,963.7 707.0,960.9 C709.2,958.1 710.9,953.9 713.5,951.6 C716.1,949.3 719.4,949.3 722.8,947.0 C726.2,944.7 730.0,940.3 734.0,937.7 C738.0,935.1 743.0,933.8 747.0,931.2 C751.0,928.6 753.8,925.6 758.1,921.9 C762.4,918.2 769.3,913.8 773.0,908.9 C776.7,904.0 778.2,898.1 780.4,892.2 C782.6,886.3 783.5,878.9 786.0,873.6 C788.5,868.3 793.1,864.6 795.3,860.6 C797.5,856.6 797.5,855.1 799.0,849.5 C800.5,843.9 802.6,834.3 804.6,827.2 C806.6,820.1 809.9,810.5 811.1,806.7 C812.3,802.9 811.9,804.9 812.0,804.5" fill="none" stroke="#0072bd" stroke-width="8.2" stroke-linejoin="round"/>
<line x1="1364.5" y1="713.0" x2="1364.5" y2="1068.0" stroke="#dcdcdc" stroke-width="2" />
<line x1="1024.0" y1="890.5" x2="1705.0" y2="890.5" stroke="#dcdcdc" stroke-width="2" />
<rect x="1024.0" y="713.0" width="681.0" height="355.0" fill="none" stroke="#1c1c1c" stroke-width="2"/>
<line x1="1024.0" y1="1068.0" x2="1024.0" y2="1061.0" stroke="#1c1c1c" stroke-width="2" />
<line x1="1024.0" y1="713.0" x2="1024.0" y2="720.0" stroke="#1c1c1c" stroke-width="2" />
<line x1="1364.5" y1="1068.0" x2="1364.5" y2="1061.0" stroke="#1c1c1c" stroke-width="2" />
<line x1="1364.5" y1="713.0" x2="1364.5" y2="720.0" stroke="#1c1c1c" stroke-width="2" />
<line x1="1705.0" y1="1068.0" x2="1705.0" y2="1061.0" stroke="#1c1c1c" stroke-width="2" />
<line x1="1705.0" y1="713.0" x2="1705.0" y2="720.0" stroke="#1c1c1c" stroke-width="2" />
<line x1="1024.0" y1="1068.0" x2="1031.0" y2="1068.0" stroke="#1c1c1c" stroke-width="2" />
<line x1="1705.0" y1="1068.0" x2="1698.0" y2="1068.0" stroke="#1c1c1c" stroke-width="2" />
<line x1="1024.0" y1="890.5" x2="1031.0" y2="890.5" stroke="#1c1c1c" stroke-width="2" />
<line x1="1705.0" y1="890.5" x2="1698.0" y2="890.5" stroke="#1c1c1c" stroke-width="2" />
<line x1="1024.0" y1="713.0" x2="1031.0" y2="713.0" stroke="#1c1c1c" stroke-width="2" />
<line x1="1705.0" y1="713.0" x2="1698.0" y2="713.0" stroke="#1c1c1c" stroke-width="2" />
<text x="1024.0" y="1140.0" font-size="51.5" text-anchor="middle" fill="#262626" font-family="'Liberation Sans', sans-serif" >0</text>
<text x="1364.5" y="1140.0" font-size="51.5" text-anchor="middle" fill="#262626" font-family="'Liberation Sans', sans-serif" >100</text>
<text x="1705.0" y="1140.0" font-size="51.5" text-anchor="middle" fill="#262626" font-family="'Liberation Sans', sans-serif" >200</text>
<text x="1004.5" y="1087.5" font-size="51.5" text-anchor="end" fill="#262626" font-family="'Liberation Sans', sans-serif" >0</text>
<text x="1004.5" y="910.0" font-size="51.5" text-anchor="end" fill="#262626" font-family="'Liberation Sans', sans-serif" >100</text>
<text x="1004.5" y="732.5" font-size="51.5" text-anchor="end" fill="#262626" font-family="'Liberation Sans', sans-serif" >200</text>
<path d="M1023.2,1067.2 C1044.1,1067.2 1125.4,1067.6 1148.4,1067.2 C1171.4,1066.8 1157.6,1066.1 1161.2,1065.0 C1164.8,1063.9 1165.9,1062.7 1169.8,1060.7 C1173.7,1058.8 1180.1,1056.2 1184.7,1053.3 C1189.3,1050.4 1193.3,1046.8 1197.6,1043.6 C1201.9,1040.4 1206.1,1037.6 1210.4,1034.0 C1214.7,1030.4 1218.7,1025.8 1223.3,1022.2 C1227.9,1018.6 1232.9,1016.0 1238.2,1012.6 C1243.5,1009.2 1249.6,1005.3 1255.3,1001.9 C1261.0,998.5 1266.1,995.1 1272.5,992.3 C1278.9,989.4 1286.1,987.8 1293.9,984.8 C1301.7,981.8 1311.7,977.3 1319.5,974.1 C1327.3,970.9 1334.1,968.2 1340.9,965.5 C1347.7,962.8 1354.9,960.5 1360.2,958.0 C1365.5,955.5 1369.7,952.4 1373.0,950.6 C1376.3,948.8 1374.0,950.5 1380.0,947.0 C1386.0,943.5 1401.4,933.7 1408.7,929.7 C1416.0,925.7 1419.2,925.9 1424.0,923.0 C1428.8,920.1 1432.6,915.9 1437.4,912.5 C1442.2,909.1 1447.3,907.4 1452.7,902.9 C1458.1,898.4 1463.9,891.8 1470.0,885.7 C1476.1,879.7 1483.4,872.0 1489.1,866.6 C1494.8,861.2 1499.0,858.0 1504.4,853.2 C1509.8,848.4 1515.3,843.2 1521.7,837.8 C1528.1,832.4 1536.0,825.2 1542.7,820.6 C1549.4,816.0 1555.2,813.3 1561.9,810.1 C1568.6,806.9 1574.9,804.5 1582.9,801.5 C1590.9,798.5 1600.5,794.8 1609.7,791.9 C1619.0,789.0 1628.8,786.4 1638.4,784.2 C1648.0,782.0 1657.3,780.2 1667.2,778.5 C1677.1,776.8 1692.7,774.5 1697.8,773.7" fill="none" stroke="#0072bd" stroke-width="8.2" stroke-linejoin="round"/>
<rect x="1111" y="744" width="277" height="145.5" fill="#ffffff" stroke="none"/>
<line x1="1342.0" y1="744.0" x2="1342.0" y2="889.5" stroke="#dcdcdc" stroke-width="2" />
<line x1="1111.0" y1="752.9" x2="1388.0" y2="752.9" stroke="#c4c4c4" stroke-width="2" stroke-dasharray="3.5 5.4"/>
<line x1="1111.0" y1="793.8" x2="1388.0" y2="793.8" stroke="#c4c4c4" stroke-width="2" stroke-dasharray="3.5 5.4"/>
<line x1="1111.0" y1="814.9" x2="1388.0" y2="814.9" stroke="#c4c4c4" stroke-width="2" stroke-dasharray="3.5 5.4"/>
<line x1="1111.0" y1="835.9" x2="1388.0" y2="835.9" stroke="#c4c4c4" stroke-width="2" stroke-dasharray="3.5 5.4"/>
<line x1="1111.0" y1="856.9" x2="1388.0" y2="856.9" stroke="#c4c4c4" stroke-width="2" stroke-dasharray="3.5 5.4"/>
<line x1="1111.0" y1="877.6" x2="1388.0" y2="877.6" stroke="#c4c4c4" stroke-width="2" stroke-dasharray="3.5 5.4"/>
<line x1="1111.0" y1="773.9" x2="1388.0" y2="773.9" stroke="#dcdcdc" stroke-width="2" />
<rect x="1111" y="744" width="277" height="145.5" fill="none" stroke="#1c1c1c" stroke-width="2"/>
<line x1="1342.0" y1="889.5" x2="1342.0" y2="885.5" stroke="#1c1c1c" stroke-width="2" />
<line x1="1342.0" y1="744.0" x2="1342.0" y2="748.0" stroke="#1c1c1c" stroke-width="2" />
<line x1="1111.0" y1="773.9" x2="1115.0" y2="773.9" stroke="#1c1c1c" stroke-width="2" />
<line x1="1388.0" y1="773.9" x2="1384.0" y2="773.9" stroke="#1c1c1c" stroke-width="2" />
<line x1="1111.0" y1="752.9" x2="1115.0" y2="752.9" stroke="#1c1c1c" stroke-width="2" />
<line x1="1388.0" y1="752.9" x2="1384.0" y2="752.9" stroke="#1c1c1c" stroke-width="2" />
<line x1="1111.0" y1="793.8" x2="1115.0" y2="793.8" stroke="#1c1c1c" stroke-width="2" />
<line x1="1388.0" y1="793.8" x2="1384.0" y2="793.8" stroke="#1c1c1c" stroke-width="2" />
<line x1="1111.0" y1="814.9" x2="1115.0" y2="814.9" stroke="#1c1c1c" stroke-width="2" />
<line x1="1388.0" y1="814.9" x2="1384.0" y2="814.9" stroke="#1c1c1c" stroke-width="2" />
<line x1="1111.0" y1="835.9" x2="1115.0" y2="835.9" stroke="#1c1c1c" stroke-width="2" />
<line x1="1388.0" y1="835.9" x2="1384.0" y2="835.9" stroke="#1c1c1c" stroke-width="2" />
<line x1="1111.0" y1="856.9" x2="1115.0" y2="856.9" stroke="#1c1c1c" stroke-width="2" />
<line x1="1388.0" y1="856.9" x2="1384.0" y2="856.9" stroke="#1c1c1c" stroke-width="2" />
<line x1="1111.0" y1="877.6" x2="1115.0" y2="877.6" stroke="#1c1c1c" stroke-width="2" />
<line x1="1388.0" y1="877.6" x2="1384.0" y2="877.6" stroke="#1c1c1c" stroke-width="2" />
<path d="M1172.3,889.4 C1173.3,887.1 1176.2,879.8 1178.3,875.5 C1180.4,871.2 1182.2,866.7 1184.7,863.7 C1187.2,860.7 1189.4,859.2 1193.3,857.3 C1197.2,855.3 1203.3,853.8 1208.3,852.0 C1213.3,850.2 1219.0,848.2 1223.3,846.6 C1227.6,845.0 1230.1,843.9 1234.0,842.3 C1237.9,840.7 1243.2,839.7 1246.8,837.0 C1250.3,834.3 1252.8,829.5 1255.3,826.3 C1257.8,823.1 1259.6,820.2 1261.8,817.7 C1264.0,815.2 1266.2,814.5 1268.2,811.3 C1270.2,808.1 1271.5,802.4 1273.5,798.5 C1275.5,794.6 1277.3,790.8 1280.0,787.8 C1282.7,784.8 1286.6,782.8 1289.6,780.3 C1292.6,777.8 1295.1,775.5 1298.1,772.8 C1301.1,770.1 1304.2,766.5 1307.8,764.2 C1311.4,761.9 1314.0,760.9 1319.5,758.9 C1325.0,756.9 1333.8,754.5 1340.9,752.5 C1348.0,750.5 1354.6,748.5 1362.3,747.1 C1370.0,745.7 1382.8,744.4 1386.9,743.9" fill="none" stroke="#0072bd" stroke-width="8.2" stroke-linejoin="round"/>
<line x1="570.0" y1="1162.0" x2="570.0" y2="1506.0" stroke="#dcdcdc" stroke-width="2" />
<line x1="231.0" y1="1279.0" x2="909.5" y2="1279.0" stroke="#dcdcdc" stroke-width="2" />
<rect x="231.0" y="1162.0" width="678.5" height="344.0" fill="none" stroke="#1c1c1c" stroke-width="2"/>
<line x1="231.0" y1="1506.0" x2="231.0" y2="1499.0" stroke="#1c1c1c" stroke-width="2" />
<line x1="231.0" y1="1162.0" x2="231.0" y2="1169.0" stroke="#1c1c1c" stroke-width="2" />
<line x1="570.0" y1="1506.0" x2="570.0" y2="1499.0" stroke="#1c1c1c" stroke-width="2" />
<line x1="570.0" y1="1162.0" x2="570.0" y2="1169.0" stroke="#1c1c1c" stroke-width="2" />
<line x1="909.5" y1="1506.0" x2="909.5" y2="1499.0" stroke="#1c1c1c" stroke-width="2" />
<line x1="909.5" y1="1162.0" x2="909.5" y2="1169.0" stroke="#1c1c1c" stroke-width="2" />
<line x1="231.0" y1="1506.0" x2="238.0" y2="1506.0" stroke="#1c1c1c" stroke-width="2" />
<line x1="909.5" y1="1506.0" x2="902.5" y2="1506.0" stroke="#1c1c1c" stroke-width="2" />
<line x1="231.0" y1="1279.0" x2="238.0" y2="1279.0" stroke="#1c1c1c" stroke-width="2" />
<line x1="909.5" y1="1279.0" x2="902.5" y2="1279.0" stroke="#1c1c1c" stroke-width="2" />
<text x="231.0" y="1578.0" font-size="51.5" text-anchor="middle" fill="#262626" font-family="'Liberation Sans', sans-serif" >0</text>
<text x="570.0" y="1578.0" font-size="51.5" text-anchor="middle" fill="#262626" font-family="'Liberation Sans', sans-serif" >100</text>
<text x="909.5" y="1578.0" font-size="51.5" text-anchor="middle" fill="#262626" font-family="'Liberation Sans', sans-serif" >200</text>
<text x="211.5" y="1525.5" font-size="51.5" text-anchor="end" fill="#262626" font-family="'Liberation Sans', sans-serif" >0</text>
<text x="211.5" y="1298.5" font-size="51.5" text-anchor="end" fill="#262626" font-family="'Liberation Sans', sans-serif" >0.2</text>
<polyline points="230.4,1504.5 350.0,1504.5 361.3,1497.4 374.1,1488.9 378.4,1476.1 386.9,1440.6 395.4,1415.0 405.4,1390.8 415.3,1372.3 422.4,1358.1 433.8,1341.1 443.8,1324.7 450.0,1317.0 458.3,1307.7 468.2,1298.6 479.0,1292.8 489.8,1287.8 499.8,1279.5 512.2,1267.9 524.6,1256.3 537.1,1241.4 549.5,1236.4 566.1,1230.6 590.0,1224.0 610.7,1214.9 635.0,1201.7 657.3,1199.7 681.6,1196.6 701.9,1189.5 728.3,1183.4 776.9,1183.4 803.3,1176.4 823.5,1167.2 853.9,1165.2 895.5,1161.1" fill="none" stroke="#0072bd" stroke-width="8.2" stroke-linejoin="round" stroke-linecap="butt" />
<polyline points="230.4,1504.5 330.9,1504.5 340.0,1503.6 345.7,1502.4 358.5,1487.5 372.7,1475.4 379.8,1447.7 388.3,1419.2 396.9,1393.6 405.4,1372.3 415.3,1346.7 421.0,1334.7 428.1,1322.6 436.6,1307.0 443.8,1294.2 450.0,1287.0 455.0,1277.9 460.8,1267.9 466.6,1259.6 474.9,1252.2 487.3,1243.0 499.8,1234.7 514.7,1226.4 532.9,1217.3 549.5,1210.7 566.1,1205.7 582.7,1198.2 590.0,1195.8 610.7,1192.6 641.1,1188.5 681.6,1182.0 722.2,1179.4 762.7,1176.8 783.0,1175.3 803.3,1172.7 823.5,1171.3 839.7,1174.3 864.1,1172.7 895.5,1171.3" fill="none" stroke="#d95319" stroke-width="8.2" stroke-linejoin="round" stroke-linecap="butt" />
<line x1="1357.5" y1="1155.5" x2="1357.5" y2="1506.0" stroke="#dcdcdc" stroke-width="2" />
<line x1="1024.0" y1="1363.0" x2="1691.0" y2="1363.0" stroke="#dcdcdc" stroke-width="2" />
<line x1="1024.0" y1="1221.0" x2="1691.0" y2="1221.0" stroke="#dcdcdc" stroke-width="2" />
<rect x="1024.0" y="1155.5" width="667.0" height="350.5" fill="none" stroke="#1c1c1c" stroke-width="2"/>
<line x1="1024.0" y1="1506.0" x2="1024.0" y2="1499.0" stroke="#1c1c1c" stroke-width="2" />
<line x1="1024.0" y1="1155.5" x2="1024.0" y2="1162.5" stroke="#1c1c1c" stroke-width="2" />
<line x1="1357.5" y1="1506.0" x2="1357.5" y2="1499.0" stroke="#1c1c1c" stroke-width="2" />
<line x1="1357.5" y1="1155.5" x2="1357.5" y2="1162.5" stroke="#1c1c1c" stroke-width="2" />
<line x1="1691.0" y1="1506.0" x2="1691.0" y2="1499.0" stroke="#1c1c1c" stroke-width="2" />
<line x1="1691.0" y1="1155.5" x2="1691.0" y2="1162.5" stroke="#1c1c1c" stroke-width="2" />
<line x1="1024.0" y1="1506.0" x2="1031.0" y2="1506.0" stroke="#1c1c1c" stroke-width="2" />
<line x1="1691.0" y1="1506.0" x2="1684.0" y2="1506.0" stroke="#1c1c1c" stroke-width="2" />
<line x1="1024.0" y1="1363.0" x2="1031.0" y2="1363.0" stroke="#1c1c1c" stroke-width="2" />
<line x1="1691.0" y1="1363.0" x2="1684.0" y2="1363.0" stroke="#1c1c1c" stroke-width="2" />
<line x1="1024.0" y1="1221.0" x2="1031.0" y2="1221.0" stroke="#1c1c1c" stroke-width="2" />
<line x1="1691.0" y1="1221.0" x2="1684.0" y2="1221.0" stroke="#1c1c1c" stroke-width="2" />
<text x="1024.0" y="1578.0" font-size="51.5" text-anchor="middle" fill="#262626" font-family="'Liberation Sans', sans-serif" >0</text>
<text x="1357.5" y="1578.0" font-size="51.5" text-anchor="middle" fill="#262626" font-family="'Liberation Sans', sans-serif" >100</text>
<text x="1691.0" y="1578.0" font-size="51.5" text-anchor="middle" fill="#262626" font-family="'Liberation Sans', sans-serif" >200</text>
<text x="1004.5" y="1525.5" font-size="51.5" text-anchor="end" fill="#262626" font-family="'Liberation Sans', sans-serif" >0</text>
<text x="1004.5" y="1382.5" font-size="51.5" text-anchor="end" fill="#262626" font-family="'Liberation Sans', sans-serif" >0.1</text>
<text x="1004.5" y="1240.5" font-size="51.5" text-anchor="end" fill="#262626" font-family="'Liberation Sans', sans-serif" >0.2</text>
<polyline points="1023.6,1504.6 1144.7,1504.6 1164.2,1485.1 1185.8,1396.5 1209.6,1331.6 1233.4,1297.0 1255.0,1264.6 1278.8,1245.1 1302.6,1234.3 1322.0,1235.4 1348.0,1232.2 1370.3,1230.2 1394.6,1223.1 1421.0,1212.0 1445.3,1204.9 1467.6,1200.8 1491.9,1193.7 1514.2,1184.6 1536.5,1179.5 1558.8,1177.5 1583.1,1169.4 1607.5,1162.3 1633.8,1159.3 1656.1,1156.2 1677.4,1154.6" fill="none" stroke="#0072bd" stroke-width="8.2" stroke-linejoin="round" stroke-linecap="butt" />
<polyline points="1023.6,1504.6 1120.9,1504.6 1138.2,1502.4 1164.2,1489.5 1188.0,1450.5 1198.8,1416.0 1210.7,1372.7 1233.4,1340.3 1257.2,1320.8 1281.0,1305.7 1304.7,1293.8 1326.4,1299.2 1350.1,1284.1 1376.4,1274.8 1406.8,1261.6 1431.1,1249.5 1455.4,1236.3 1487.8,1220.1 1512.2,1209.9 1538.5,1199.8 1562.9,1193.7 1587.2,1189.7 1613.5,1182.6 1637.9,1176.5 1654.1,1172.4 1677.4,1172.4" fill="none" stroke="#d95319" stroke-width="8.2" stroke-linejoin="round" stroke-linecap="butt" />
<rect x="1457" y="713" width="125" height="107" fill="none" stroke="#ffffff" stroke-width="2"/>
<line x1="1457" y1="713" x2="1582" y2="713" stroke="#ffffff" stroke-width="3"/>
<line x1="234" y1="715" x2="234" y2="719" stroke="#ffffff" stroke-width="2"/>
<line x1="355" y1="715" x2="355" y2="719" stroke="#ffffff" stroke-width="2"/>
<line x1="244.5" y1="1160" x2="244.5" y2="1164" stroke="#ffffff" stroke-width="2"/>
<line x1="366.6" y1="1160" x2="366.6" y2="1164" stroke="#ffffff" stroke-width="2"/>
<line x1="1036.5" y1="1153.5" x2="1036.5" y2="1157.5" stroke="#ffffff" stroke-width="2"/>
<line x1="1147" y1="1153.5" x2="1147" y2="1157.5" stroke="#ffffff" stroke-width="2"/>
<line x1="1036.5" y1="1219" x2="1036.5" y2="1223" stroke="#ffffff" stroke-width="2"/>
<line x1="1147" y1="1219" x2="1147" y2="1223" stroke="#ffffff" stroke-width="2"/>
<rect x="619.5" y="1339.5" width="233.5" height="125.0" fill="#ffffff" stroke="#1c1c1c" stroke-width="2"/>
<line x1="630" y1="1373.4" x2="742.9" y2="1373.4" stroke="#0072bd" stroke-width="8.4"/>
<line x1="630" y1="1431.2" x2="742.9" y2="1431.2" stroke="#d95319" stroke-width="8.4"/>
<rect x="1415.5" y="1348.5" width="233.5" height="125.0" fill="#ffffff" stroke="#1c1c1c" stroke-width="2"/>
<line x1="1425.9" y1="1382.3" x2="1539" y2="1382.3" stroke="#0072bd" stroke-width="8.4"/>
<line x1="1425.9" y1="1440.4" x2="1539" y2="1440.4" stroke="#d95319" stroke-width="8.4"/>
<line x1="620.6" y1="189.3" x2="549.6" y2="242.4" stroke="#000000" stroke-width="2.2"/>
<polygon points="528.4,258.3 550.9,223.3 549.6,242.4 568.3,246.5" fill="#000000"/>
<line x1="722.5" y1="546.6" x2="660.9" y2="510.9" stroke="#000000" stroke-width="2.2"/>
<polygon points="638.0,497.6 679.0,504.6 660.9,510.9 664.5,529.7" fill="#000000"/>
<line x1="1443.7" y1="194.3" x2="1373.7" y2="246.4" stroke="#000000" stroke-width="2.2"/>
<polygon points="1352.4,262.2 1375.0,227.3 1373.7,246.4 1392.3,250.6" fill="#000000"/>
<line x1="1397.6" y1="528.4" x2="1374.2" y2="510.6" stroke="#000000" stroke-width="2.2"/>
<polygon points="1353.1,494.6 1392.9,506.6 1374.2,510.6 1375.4,529.7" fill="#000000"/>
<line x1="387.2" y1="907.9" x2="441.0" y2="970.9" stroke="#000000" stroke-width="2.2"/>
<polygon points="458.2,991.0 421.8,970.8 441.0,970.9 443.9,951.9" fill="#000000"/>
<line x1="1556.1" y1="950.8" x2="1510.2" y2="886.2" stroke="#000000" stroke-width="2.2"/>
<polygon points="1494.9,864.6 1529.3,888.0 1510.2,886.2 1505.7,904.8" fill="#000000"/>
<line x1="385.0" y1="1307.8" x2="418.2" y2="1303.0" stroke="#000000" stroke-width="2.2"/>
<polygon points="444.4,1299.2 407.9,1319.1 418.2,1303.0 403.7,1290.4" fill="#000000"/>
<line x1="639.1" y1="1289.9" x2="556.5" y2="1256.2" stroke="#000000" stroke-width="2.2"/>
<polygon points="532.0,1246.2 573.6,1247.5 556.5,1256.2 562.6,1274.4" fill="#000000"/>
<line x1="1217.2" y1="1246.9" x2="1244.7" y2="1247.7" stroke="#000000" stroke-width="2.2"/>
<polygon points="1271.2,1248.4 1231.8,1261.8 1244.7,1247.7 1232.6,1232.8" fill="#000000"/>
<line x1="1512.2" y1="1264.7" x2="1434.3" y2="1262.4" stroke="#000000" stroke-width="2.2"/>
<polygon points="1407.8,1261.6 1447.2,1248.3 1434.3,1262.4 1446.4,1277.3" fill="#000000"/>
<g transform="translate(364.40,147.10)"><text x="0" y="0" font-size="52" font-family="'Liberation Sans', sans-serif" fill="#000000">(a)</text></g>
<g transform="translate(1184.40,154.05)"><text x="0" y="0" font-size="52" font-family="'Liberation Sans', sans-serif" fill="#000000">(b)</text></g>
<g transform="translate(253.45,780.10)"><text x="0" y="0" font-size="52" font-family="'Liberation Sans', sans-serif" fill="#000000">(c)</text></g>
<g transform="translate(1477.70,778.10)"><text x="0" y="0" font-size="52" font-family="'Liberation Sans', sans-serif" fill="#000000">(d)</text></g>
<g transform="translate(262.65,1212.15)"><text x="0" y="0" font-size="52" font-family="'Liberation Sans', sans-serif" fill="#000000">(e)</text></g>
<g transform="translate(1054.80,1210.55)"><text x="0" y="0" font-size="52" font-family="'Liberation Sans', sans-serif" fill="#000000">(f)</text></g>
<g transform="translate(635.60,152.25)"><text x="0" y="0" font-size="52" font-family="'Liberation Sans', sans-serif" fill="#000000">N</text></g>
<g transform="translate(671.53,177.10) scale(0.9929,0.9929)"><text x="0" y="0" font-size="40" font-family="'Liberation Sans', sans-serif" fill="#000000">1</text></g>
<g transform="translate(738.40,554.05)"><text x="0" y="0" font-size="52" font-family="'Liberation Sans', sans-serif" fill="#000000">N</text></g>
<g transform="translate(777.95,579.15)"><text x="0" y="0" font-size="40" font-family="'Liberation Sans', sans-serif" fill="#000000">2</text></g>
<g transform="translate(1458.40,157.05)"><text x="0" y="0" font-size="52" font-family="'Liberation Sans', sans-serif" fill="#000000">N</text></g>
<g transform="translate(1494.95,181.00) scale(0.9786,0.9786)"><text x="0" y="0" font-size="40" font-family="'Liberation Sans', sans-serif" fill="#000000">1</text></g>
<g transform="translate(1413.50,581.05)"><text x="0" y="0" font-size="52" font-family="'Liberation Sans', sans-serif" fill="#000000">N</text></g>
<g transform="translate(1452.25,606.05)"><text x="0" y="0" font-size="40" font-family="'Liberation Sans', sans-serif" fill="#000000">2</text></g>
<g transform="translate(297.49,900.44) scale(1.0182,0.9942)"><text x="0" y="0" font-size="60" font-family="'DejaVu Sans', sans-serif" fill="#000000" stroke="#ffffff" stroke-width="1.4">&#x27E8;</text></g>
<g transform="translate(362.45,900.44) scale(1.0091,0.9942)"><text x="0" y="0" font-size="60" font-family="'DejaVu Sans', sans-serif" fill="#000000" stroke="#ffffff" stroke-width="1.4">&#x27E9;</text></g>
<g transform="translate(335.73,893.80) scale(1.0028,1.0028)"><text x="0" y="0" font-size="52" font-family="'Liberation Sans', sans-serif" fill="#000000">I</text></g>
<g transform="translate(1570.75,1010.41) scale(1.1091,0.9981)"><text x="0" y="0" font-size="60" font-family="'DejaVu Sans', sans-serif" fill="#000000" stroke="#ffffff" stroke-width="1.4">&#x27E8;</text></g>
<g transform="translate(1636.40,1010.41) scale(1.0000,0.9981)"><text x="0" y="0" font-size="60" font-family="'DejaVu Sans', sans-serif" fill="#000000" stroke="#ffffff" stroke-width="1.4">&#x27E9;</text></g>
<g transform="translate(1609.36,1004.40) scale(1.0250,1.0250)"><text x="0" y="0" font-size="52" font-family="'Liberation Sans', sans-serif" fill="#000000">I</text></g>
<g transform="translate(251.40,1322.20) scale(0.9000,0.9577)"><text x="0" y="0" font-size="60" font-family="'DejaVu Sans', sans-serif" fill="#000000" stroke="#ffffff" stroke-width="1.4">&#x27E8;</text></g>
<g transform="translate(361.15,1322.20) scale(0.9909,0.9577)"><text x="0" y="0" font-size="60" font-family="'DejaVu Sans', sans-serif" fill="#000000" stroke="#ffffff" stroke-width="1.4">&#x27E9;</text></g>
<g transform="translate(288.77,1316.00) scale(0.9421,0.9421)"><text x="0" y="0" font-size="52" font-family="'Liberation Sans', sans-serif" fill="#000000">i</text></g>
<g transform="translate(300.09,1342.87) scale(1.0575,0.8289)"><text x="0" y="0" font-size="40" font-family="'Liberation Sans', sans-serif" fill="#000000">ph</text></g>
<g transform="translate(652.15,1315.92) scale(1.1091,0.9827)"><text x="0" y="0" font-size="60" font-family="'DejaVu Sans', sans-serif" fill="#000000" stroke="#ffffff" stroke-width="1.4">&#x27E8;</text></g>
<g transform="translate(737.95,1315.92) scale(1.0091,0.9827)"><text x="0" y="0" font-size="60" font-family="'DejaVu Sans', sans-serif" fill="#000000" stroke="#ffffff" stroke-width="1.4">&#x27E9;</text></g>
<g transform="translate(690.50,1309.35)"><text x="0" y="0" font-size="52" font-family="'Liberation Sans', sans-serif" fill="#000000">P</text></g>
<g transform="translate(1106.53,1273.45) scale(1.0455,0.9788)"><text x="0" y="0" font-size="60" font-family="'DejaVu Sans', sans-serif" fill="#000000" stroke="#ffffff" stroke-width="1.4">&#x27E8;</text></g>
<g transform="translate(1190.55,1273.45) scale(1.0909,0.9788)"><text x="0" y="0" font-size="60" font-family="'DejaVu Sans', sans-serif" fill="#000000" stroke="#ffffff" stroke-width="1.4">&#x27E9;</text></g>
<g transform="translate(1144.50,1267.10)"><text x="0" y="0" font-size="52" font-family="'Liberation Sans', sans-serif" fill="#000000">P</text></g>
<g transform="translate(1526.57,1279.68) scale(1.0545,0.9750)"><text x="0" y="0" font-size="60" font-family="'DejaVu Sans', sans-serif" fill="#000000" stroke="#ffffff" stroke-width="1.4">&#x27E8;</text></g>
<g transform="translate(1636.91,1279.68) scale(0.9818,0.9750)"><text x="0" y="0" font-size="60" font-family="'DejaVu Sans', sans-serif" fill="#000000" stroke="#ffffff" stroke-width="1.4">&#x27E9;</text></g>
<g transform="translate(1565.05,1273.30) scale(0.9447,0.9447)"><text x="0" y="0" font-size="52" font-family="'Liberation Sans', sans-serif" fill="#000000">i</text></g>
<g transform="translate(1577.44,1299.88) scale(1.0300,0.8526)"><text x="0" y="0" font-size="40" font-family="'Liberation Sans', sans-serif" fill="#000000">ph</text></g>
<g transform="translate(751.62,1389.44) scale(1.0556,1.1095)"><text x="0" y="0" font-size="48" font-family="'DejaVu Sans', sans-serif" fill="#000000" stroke="#ffffff" stroke-width="1.4">&#x27E8;</text></g>
<g transform="translate(803.23,1389.44) scale(1.1333,1.1095)"><text x="0" y="0" font-size="48" font-family="'DejaVu Sans', sans-serif" fill="#000000" stroke="#ffffff" stroke-width="1.4">&#x27E9;</text></g>
<g transform="translate(772.51,1384.40) scale(1.0121,0.8861)"><text x="0" y="0" font-size="48" font-family="'DejaVu Serif', serif" fill="#000000" font-style="italic">P</text></g>
<g transform="translate(1546.12,1398.80) scale(1.1556,1.1167)"><text x="0" y="0" font-size="48" font-family="'DejaVu Sans', sans-serif" fill="#000000" stroke="#ffffff" stroke-width="1.4">&#x27E8;</text></g>
<g transform="translate(1599.04,1398.80) scale(1.1111,1.1167)"><text x="0" y="0" font-size="48" font-family="'DejaVu Sans', sans-serif" fill="#000000" stroke="#ffffff" stroke-width="1.4">&#x27E9;</text></g>
<g transform="translate(1567.54,1393.80) scale(1.0364,0.8972)"><text x="0" y="0" font-size="48" font-family="'DejaVu Serif', serif" fill="#000000" font-style="italic">P</text></g>
<g transform="translate(751.62,1447.94) scale(1.0556,1.1262)"><text x="0" y="0" font-size="48" font-family="'DejaVu Sans', sans-serif" fill="#000000" stroke="#ffffff" stroke-width="1.4">&#x27E8;</text></g>
<g transform="translate(820.84,1447.94) scale(1.1111,1.1262)"><text x="0" y="0" font-size="48" font-family="'DejaVu Sans', sans-serif" fill="#000000" stroke="#ffffff" stroke-width="1.4">&#x27E9;</text></g>
<g transform="translate(770.41,1443.70) scale(0.8649,0.8649)"><text x="0" y="0" font-size="48" font-family="'DejaVu Serif', serif" fill="#000000" font-style="italic">i</text></g>
<g transform="translate(782.96,1449.99) scale(0.8683,0.8735)"><text x="0" y="0" font-size="36" font-family="'DejaVu Serif', serif" fill="#000000" font-style="italic">ph</text></g>
<g transform="translate(1546.12,1456.64) scale(1.1556,1.1095)"><text x="0" y="0" font-size="48" font-family="'DejaVu Sans', sans-serif" fill="#000000" stroke="#ffffff" stroke-width="1.4">&#x27E8;</text></g>
<g transform="translate(1616.23,1456.64) scale(1.1333,1.1095)"><text x="0" y="0" font-size="48" font-family="'DejaVu Sans', sans-serif" fill="#000000" stroke="#ffffff" stroke-width="1.4">&#x27E9;</text></g>
<g transform="translate(1566.03,1452.80) scale(0.8757,0.8757)"><text x="0" y="0" font-size="48" font-family="'DejaVu Serif', serif" fill="#000000" font-style="italic">i</text></g>
<g transform="translate(1578.77,1459.39) scale(0.8659,0.8735)"><text x="0" y="0" font-size="36" font-family="'DejaVu Serif', serif" fill="#000000" font-style="italic">ph</text></g>
<g transform="translate(564.45,894.95)"><text x="0" y="0" font-size="45" font-family="'Liberation Sans', sans-serif" fill="#262626">10</text></g>
<g transform="translate(616.25,873.05)"><text x="0" y="0" font-size="33" font-family="'Liberation Sans', sans-serif" fill="#262626">0</text></g>
<g transform="translate(695.00,1040.50)"><text x="0" y="0" font-size="45" font-family="'Liberation Sans', sans-serif" fill="#262626">20</text></g>
<g transform="translate(803.25,1040.50)"><text x="0" y="0" font-size="45" font-family="'Liberation Sans', sans-serif" fill="#262626">40</text></g>
<g transform="translate(1025.00,797.95)"><text x="0" y="0" font-size="45" font-family="'Liberation Sans', sans-serif" fill="#262626">10</text></g>
<g transform="translate(1076.80,776.75)"><text x="0" y="0" font-size="33" font-family="'Liberation Sans', sans-serif" fill="#262626">0</text></g>
<g transform="translate(1097.90,954.10)"><text x="0" y="0" font-size="45" font-family="'Liberation Sans', sans-serif" fill="#262626">0</text></g>
<g transform="translate(1315.95,954.10)"><text x="0" y="0" font-size="45" font-family="'Liberation Sans', sans-serif" fill="#262626">50</text></g>
<g transform="translate(105.51,389.59) scale(0.8889,0.9109)"><g transform="rotate(-90)"><text x="0" y="0" font-size="60" font-family="'DejaVu Serif', serif" fill="#262626" font-style="italic">N</text></g></g>
<g transform="translate(115.30,346.08) scale(0.9571,0.9200)"><g transform="rotate(-90)"><text x="0" y="0" font-size="42" font-family="'Liberation Serif', serif" fill="#262626">1</text></g></g>
<g transform="translate(114.85,323.90) scale(1.0636,0.8000)"><g transform="rotate(-90)"><text x="0" y="0" font-size="42" font-family="'Liberation Serif', serif" fill="#262626">,</text></g></g>
<g transform="translate(115.30,314.28) scale(0.9571,0.9412)"><g transform="rotate(-90)"><text x="0" y="0" font-size="42" font-family="'Liberation Serif', serif" fill="#262626">2</text></g></g>
<g transform="translate(70.57,930.70) scale(1.1327,1.2000)"><g transform="rotate(-90)"><text x="0" y="0" font-size="60" font-family="'DejaVu Sans', sans-serif" fill="#262626" stroke="#ffffff" stroke-width="1.4">&#x27E8;</text></g></g>
<g transform="translate(63.50,904.36) scale(0.9091,1.0385)"><g transform="rotate(-90)"><text x="0" y="0" font-size="60" font-family="'DejaVu Serif', serif" fill="#262626" font-style="italic">I</text></g></g>
<g transform="translate(70.57,881.55) scale(1.1327,1.1909)"><g transform="rotate(-90)"><text x="0" y="0" font-size="60" font-family="'DejaVu Sans', sans-serif" fill="#262626" stroke="#ffffff" stroke-width="1.4">&#x27E9;</text></g></g>
<g transform="translate(113.08,1451.48) scale(1.1173,1.1636)"><g transform="rotate(-90)"><text x="0" y="0" font-size="60" font-family="'DejaVu Sans', sans-serif" fill="#262626" stroke="#ffffff" stroke-width="1.4">&#x27E8;</text></g></g>
<g transform="translate(106.10,1426.10) scale(0.8955,0.9952)"><g transform="rotate(-90)"><text x="0" y="0" font-size="60" font-family="'DejaVu Serif', serif" fill="#262626" font-style="italic">P</text></g></g>
<g transform="translate(113.08,1388.38) scale(1.1173,1.1636)"><g transform="rotate(-90)"><text x="0" y="0" font-size="60" font-family="'DejaVu Sans', sans-serif" fill="#262626" stroke="#ffffff" stroke-width="1.4">&#x27E9;</text></g></g>
<g transform="translate(106.64,1358.08) scale(1.1400,0.6889)"><g transform="rotate(-90)"><text x="0" y="0" font-size="60" font-family="'Liberation Serif', serif" fill="#262626">,</text></g></g>
<g transform="translate(113.08,1326.87) scale(1.1173,1.1455)"><g transform="rotate(-90)"><text x="0" y="0" font-size="60" font-family="'DejaVu Sans', sans-serif" fill="#262626" stroke="#ffffff" stroke-width="1.4">&#x27E8;</text></g></g>
<g transform="translate(106.80,1302.96) scale(0.8909,0.8909)"><g transform="rotate(-90)"><text x="0" y="0" font-size="60" font-family="'DejaVu Serif', serif" fill="#262626" font-style="italic">i</text></g></g>
<g transform="translate(114.86,1286.90) scale(0.7930,0.8500)"><g transform="rotate(-90)"><text x="0" y="0" font-size="44" font-family="'DejaVu Serif', serif" fill="#262626" font-style="italic">ph</text></g></g>
<g transform="translate(113.08,1240.96) scale(1.1173,1.1273)"><g transform="rotate(-90)"><text x="0" y="0" font-size="60" font-family="'DejaVu Sans', sans-serif" fill="#262626" stroke="#ffffff" stroke-width="1.4">&#x27E9;</text></g></g>
<g transform="translate(561.75,1652.35)"><text x="0" y="0" font-size="57" font-family="'Liberation Sans', sans-serif" fill="#262626">t</text></g>
<g transform="translate(1349.80,1653.10)"><text x="0" y="0" font-size="57" font-family="'Liberation Sans', sans-serif" fill="#262626">t</text></g>
</svg>
</body></html>
